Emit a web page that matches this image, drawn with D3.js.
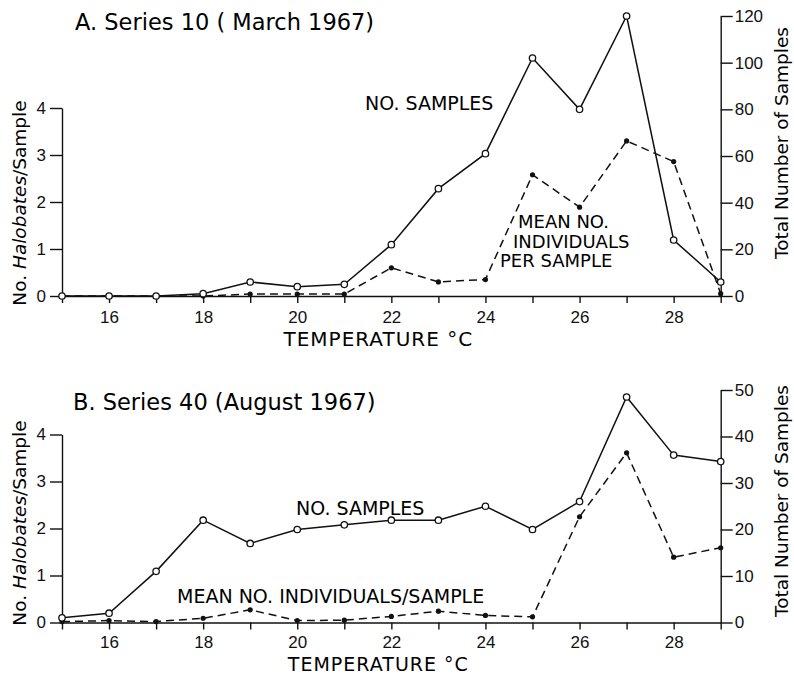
<!DOCTYPE html>
<html>
<head>
<meta charset="utf-8">
<script src="https://cdn.jsdelivr.net/npm/d3@7"></script>
<style>
  body { margin: 0; background: #fff; }
  svg { display: block; font-family: "DejaVu Sans", sans-serif; }
  .axis path, .axis line { stroke: #111; stroke-width: 1.4; }
  .axis text { font-size: 17px; fill: #111; }
</style>
</head>
<body>
<div id="chart"></div>
<script>
// Temperature classes (°C)
const temps = [15, 16, 17, 18, 19, 20, 21, 22, 23, 24, 25, 26, 27, 28, 29];

// Series 10 (March 1967)
const samplesA = [0, 0, 0, 1, 6, 4, 5, 22, 46, 61, 102, 80, 120, 24, 6];
const meanA = [0, 0, 0, 0, 0.04, 0.04, 0.04, 0.6, 0.3, 0.35, 2.58, 1.89, 3.3, 2.86, 0.05];

// Series 40 (August 1967)
const samplesB = [1, 2, 11, 22, 17, 20, 21, 22, 22, 25, 20, 26, 48.5, 36, 34.6];
const meanB = [0.02, 0.04, 0.02, 0.09, 0.27, 0.04, 0.05, 0.13, 0.24, 0.15, 0.12, 2.25, 3.61, 1.39, 1.59];

const xLabels = [16, 18, 20, 22, 24, 26, 28];
const leftTicks = [0, 1, 2, 3, 4];
const rightTicksA = [0, 20, 40, 60, 80, 100, 120];
const rightTicksB = [0, 10, 20, 30, 40, 50];

const width = 794, height = 675;
const svg = d3.select("#chart").append("svg")
  .attr("width", width)
  .attr("height", height);

const x = d3.scaleLinear().domain([15, 29]).range([62, 720.7]);

function panel(opts) {
  const g = svg.append("g");
  const yL = d3.scaleLinear().domain([0, 4]).range([opts.y0, opts.y4]);
  const yR = d3.scaleLinear().domain([0, opts.rMax]).range([opts.y0, opts.yRtop]);

  // axes
  g.append("g").attr("class", "axis")
    .attr("transform", `translate(0,${opts.y0})`)
    .call(d3.axisBottom(x).tickValues(temps).tickSizeInner(7).tickSizeOuter(0).tickPadding(opts.xPad)
      .tickFormat(d => xLabels.includes(d) ? d : ""));

  g.append("g").attr("class", "axis")
    .attr("transform", `translate(${x(15)},0)`)
    .call(d3.axisLeft(yL).tickValues(leftTicks).tickSizeInner(12).tickSizeOuter(0).tickPadding(4)
      .tickFormat(d3.format("d")));

  g.append("g").attr("class", "axis")
    .attr("transform", `translate(${x(29)},0)`)
    .call(d3.axisRight(yR).tickValues(opts.rTicks).tickSizeInner(12).tickSizeOuter(0).tickPadding(2));

  g.selectAll(".axis .domain").attr("fill", "none");

  const sData = temps.map((t, i) => [t, opts.samples[i]]);
  const mData = temps.map((t, i) => [t, opts.mean[i]]);

  // dashed line: mean no. individuals per sample (left axis)
  g.append("path")
    .datum(mData)
    .attr("fill", "none")
    .attr("stroke", "#111")
    .attr("stroke-width", 1.5)
    .attr("stroke-dasharray", "8,5")
    .attr("d", d3.line().x(d => x(d[0])).y(d => yL(d[1])));

  // solid line: number of samples (right axis)
  g.append("path")
    .datum(sData)
    .attr("fill", "none")
    .attr("stroke", "#111")
    .attr("stroke-width", 1.5)
    .attr("d", d3.line().x(d => x(d[0])).y(d => yR(d[1])));

  g.selectAll(".dot")
    .data(mData)
    .join("circle")
    .attr("cx", d => x(d[0]))
    .attr("cy", d => yL(d[1]))
    .attr("r", 2.6)
    .attr("fill", "#111");

  g.selectAll(".ring")
    .data(sData)
    .join("circle")
    .attr("cx", d => x(d[0]))
    .attr("cy", d => yR(d[1]))
    .attr("r", 3.2)
    .attr("fill", "#fff")
    .attr("stroke", "#111")
    .attr("stroke-width", 1.3);

  // titles
  g.append("text")
    .attr("x", opts.titleX).attr("y", opts.titleY)
    .style("font-size", "22.5px")
    .text(opts.title);

  g.append("text")
    .attr("x", (x(15) + x(29)) / 2 - 13).attr("y", opts.xTitleY)
    .attr("text-anchor", "middle")
    .style("font-size", opts.xTitleSize + "px")
    .style("letter-spacing", "1px")
    .text("TEMPERATURE °C");

  const lt = g.append("text")
    .attr("transform", `translate(26,${opts.leftTitleY}) rotate(-90)`)
    .attr("text-anchor", "middle")
    .style("font-size", "18.5px");
  lt.append("tspan").text("No. ");
  lt.append("tspan").style("font-style", "italic").text("Halobates");
  lt.append("tspan").text("/Sample");

  g.append("text")
    .attr("transform", `translate(788,${opts.rightTitleY}) rotate(-90)`)
    .attr("text-anchor", "middle")
    .style("font-size", "18.5px")
    .text("Total Number of Samples");

  opts.notes.forEach(n => {
    g.append("text")
      .attr("x", n.x).attr("y", n.y)
      .style("font-size", (n.size || 19) + "px")
      .text(n.text);
  });
}

panel({
  y0: 296, y4: 108, yRtop: 16, rMax: 120, rTicks: rightTicksA,
  samples: samplesA, mean: meanA, xPad: 8,
  title: "A. Series 10 ( March 1967)", titleX: 75, titleY: 30,
  xTitleY: 346, xTitleSize: 20, leftTitleY: 203, rightTitleY: 143,
  notes: [
    { text: "NO. SAMPLES", x: 365, y: 110 },
    { text: "MEAN NO.", x: 518, y: 228, size: 18 },
    { text: "INDIVIDUALS", x: 513, y: 247.5, size: 18 },
    { text: "PER SAMPLE", x: 500, y: 267, size: 18 }
  ]
});

panel({
  y0: 622.5, y4: 434.5, yRtop: 390, rMax: 50, rTicks: rightTicksB,
  samples: samplesB, mean: meanB, xPad: 6,
  title: "B. Series 40 (August 1967)", titleX: 73, titleY: 410,
  xTitleY: 670.5, xTitleSize: 19, leftTitleY: 523, rightTitleY: 501,
  notes: [
    { text: "NO. SAMPLES", x: 296, y: 515 },
    { text: "MEAN NO. INDIVIDUALS/SAMPLE", x: 177, y: 603 }
  ]
});
</script>
</body>
</html>
